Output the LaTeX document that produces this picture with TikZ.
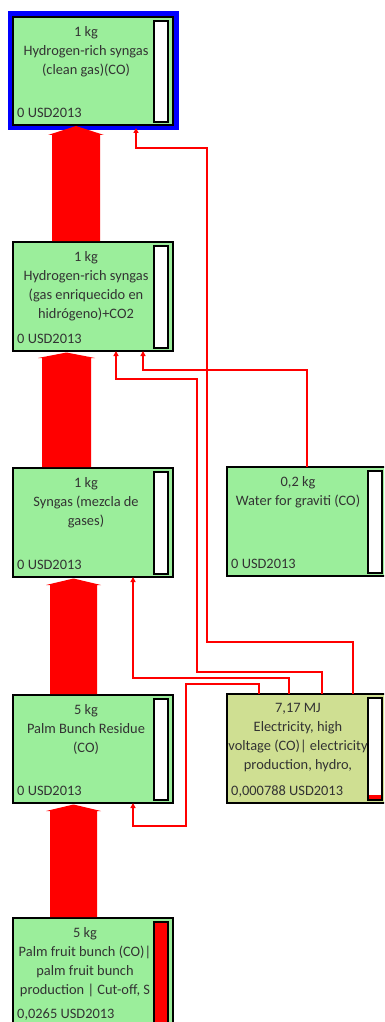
\documentclass[tikz,border=0pt]{standalone}
\usepackage{fontspec}
\setmainfont{Carlito}
\usetikzlibrary{arrows.meta,calc}
\definecolor{boxgreen}{HTML}{9BEE9B}
\definecolor{boxolive}{HTML}{CFDF92}
\definecolor{labelgray}{HTML}{333333}
\definecolor{selblue}{HTML}{0000FF}
\definecolor{flowred}{HTML}{FF0000}

% wide mass-flow arrow: #1 lower (source) box, #2 upper (target) box,
% #3/#4 left/right edge of the shaft, #5 head base offset, #6 tip offset
\newcommand\massflow[6]{%
  \fill[bigflow] let \p1=(#1.north), \p2=(#2.south) in
    (#3pt,\y1+0.8pt) -- (#3pt,\y2-#5pt) -- (#3pt-4pt,\y2-#5pt)
    -- ({(#3pt+#4pt)/2},\y2-#6pt)
    -- (#4pt+4pt,\y2-#5pt) -- (#4pt,\y2-#5pt) -- (#4pt,\y1+0.8pt) -- cycle;}

\begin{document}
\begin{tikzpicture}[x=1pt,y=-1pt,
  box/.style={draw=black,line width=1.5pt,fill=boxgreen,minimum width=160pt,
    minimum height=109pt,anchor=north west,inner sep=0pt,outer sep=0pt},
  bar/.style={draw=black,line width=1.2pt,fill=white,minimum width=14pt,
    minimum height=102pt,anchor=north west,inner sep=0pt,outer sep=0pt},
  lbl/.style={font=\fontsize{14.4}{19}\selectfont,text=labelgray,align=center,
    inner sep=0pt,anchor=north},
  cost/.style={font=\fontsize{14.4}{19}\selectfont,text=labelgray,
    inner sep=0pt,anchor=west},
  link/.style={draw=flowred,line width=1.3pt,-{Triangle[length=5pt,width=5pt]}},
  bigflow/.style={fill=flowred}]

\useasboundingbox (0,0) rectangle (384,1022);
\clip (0,0) rectangle (384,1022);

% selection frame round the reference product
\draw[selblue,line width=5.5pt] (10.5,14) rectangle (176,127.5);

% process boxes
\node[box,minimum height=108pt] (b1) at (13,17) {};
\node[box] (b2) at (13,242) {};
\node[box] (b3) at (13,468) {};
\node[box] (water) at (227,467) {};
\node[box,minimum height=108pt] (b4) at (13,695) {};
\node[box,fill=boxolive] (elec) at (227,694) {};
\node[box] (b5) at (13,918) {};

% contribution bars
\node[bar,minimum height=101pt] (b1bar) at ($(b1.north west)+(141,4)$) {};
\node[bar] (b2bar) at ($(b2.north west)+(141,4)$) {};
\node[bar] (b3bar) at ($(b3.north west)+(141,4)$) {};
\node[bar] (waterbar) at ($(water.north west)+(141,4)$) {};
\node[bar,minimum height=101pt] (b4bar) at ($(b4.north west)+(141,4)$) {};
\node[bar] (elecbar) at ($(elec.north west)+(141,4)$) {};
\node[bar,fill=flowred] (b5bar) at ($(b5.north west)+(141,4)$) {};
\fill[flowred] ($(elecbar.south west)+(0.7,-0.7)$) rectangle ($(elecbar.south east)+(-0.7,-5)$);

% labels
\node[lbl] (b1txt) at ($(b1.north west)+(73,9.5)$) {1 kg\\Hydrogen-rich syngas\\(clean gas)(CO)};
\node[lbl] (b2txt) at ($(b2.north west)+(73,9.5)$) {1 kg\\Hydrogen-rich syngas\\(gas enriquecido en\\hidrógeno)+CO2};
\node[lbl] (b3txt) at ($(b3.north west)+(73,9.5)$) {1 kg\\Syngas (mezcla de\\gases)};
\node[lbl] (watertxt) at ($(water.north west)+(71,9.5)$) {0,2 kg\\Water for graviti (CO)};
\node[lbl] (b4txt) at ($(b4.north west)+(73,9.5)$) {5 kg\\Palm Bunch Residue\\(CO)};
\node[lbl] (electxt) at ($(elec.north west)+(71,9.5)$) {7,17 MJ\\Electricity, high\\voltage (CO)| electricity\\production, hydro,};
\node[lbl] (b5txt) at ($(b5.north west)+(72,9.5)$) {5 kg\\Palm fruit bunch (CO)|\\palm fruit bunch\\production | Cut-off, S};

\node[cost] (b1cost) at ($(b1.south west)+(4,-12)$) {0 USD2013};
\node[cost] (b2cost) at ($(b2.south west)+(4,-12)$) {0 USD2013};
\node[cost] (b3cost) at ($(b3.south west)+(4,-12)$) {0 USD2013};
\node[cost] (watercost) at ($(water.south west)+(4,-12)$) {0 USD2013};
\node[cost] (b4cost) at ($(b4.south west)+(4,-12)$) {0 USD2013};
\node[cost] (eleccost) at ($(elec.south west)+(4,-12)$) {0,000788 USD2013};
\node[cost] (b5cost) at ($(b5.south west)+(4,-12)$) {0,0265 USD2013};

% main product chain
\massflow{b2}{b1}{52}{100}{10}{1}
\massflow{b3}{b2}{42}{91}{7}{1.5}
\massflow{b4}{b3}{50}{97}{8}{1.5}
\massflow{b5}{b4}{50}{97}{8}{1.5}

% electricity and water inputs
\draw[link] ($(elec.north west)+(126,0)$) |- (207,642) |- (136,148) -- ($(b1.south west)+(123,3)$);
\draw[link] ($(elec.north west)+(95,0)$) |- (197,672) |- (116,379) -- ($(b2.south west)+(103,0)$);
\draw[link] ($(water.north west)+(80,0)$) |- (143,370) -- ($(b2.south west)+(130,0)$);
\draw[link] ($(elec.north west)+(62,0)$) |- (133,678) -- ($(b3.south west)+(120,0)$);
\draw[link] ($(elec.north west)+(32,0)$) |- (186,684) |- (133,826) -- ($(b4.south west)+(120,0)$);

\end{tikzpicture}
\end{document}
